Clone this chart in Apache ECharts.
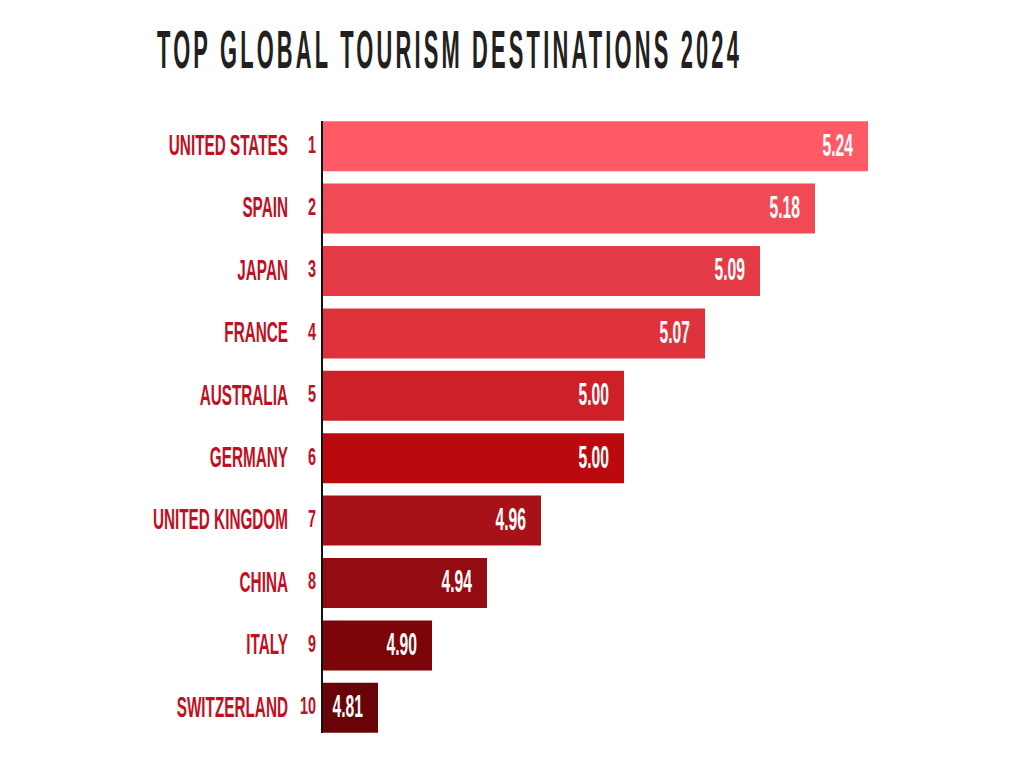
<!DOCTYPE html>
<html><head><meta charset="utf-8">
<style>html,body{margin:0;padding:0;background:#fff}#c{width:1024px;height:768px}
#c text[style*="54px"]{letter-spacing:7.85px}</style>
<script src="https://cdn.jsdelivr.net/npm/echarts@6/dist/echarts.min.js"></script>
</head><body><div id="c"></div>
<script>
const titleText = 'TOP GLOBAL TOURISM DESTINATIONS 2024';
const categories = ['UNITED STATES','SPAIN','JAPAN','FRANCE','AUSTRALIA','GERMANY','UNITED KINGDOM','CHINA','ITALY','SWITZERLAND'];
const ranks = [1,2,3,4,5,6,7,8,9,10];
const scores = ['5.24','5.18','5.09','5.07','5.00','5.00','4.96','4.94','4.90','4.81'];
const barExtent = [546,493,438,383,302,302,219,165,110,56];
const barColors = ['#FF5A65','#F04B55','#E53B47','#DE323C','#CE2029','#BB0A0E','#A81118','#930C11','#7B0509','#680408'];
const FONT = '"Liberation Sans Narrow","Liberation Sans",sans-serif';
const chart = echarts.init(document.getElementById('c'), null, {renderer:'svg'});
function txt(text,x,y,size,fill,sx){
  return {type:'text',x,y,scaleX:sx,silent:true,
    style:{text,x:0,y:0,fill,align:'right',verticalAlign:'middle',
      font:'bold '+size+'px '+FONT}};
}
chart.setOption({
  animation:false,
  backgroundColor:'#fff',
  grid:{left:322,top:115,width:546,height:624,containLabel:false},
  xAxis:{type:'value',min:0,max:546,show:false},
  yAxis:{type:'category',inverse:true,data:categories,axisLine:{show:false},axisTick:{show:false},axisLabel:{show:false}},
  graphic:[
    {type:'rect',z:10,shape:{x:321,y:121,width:2,height:612},style:{fill:'#111'}},
    {type:'text',x:157,y:50,scaleX:0.405,style:{text:titleText,x:0,y:0,fill:'#231F20',align:'left',verticalAlign:'middle',font:'bold 54px '+FONT}}
  ],
  series:[
    {type:'bar',barWidth:50,data:barExtent.map((v,i)=>({value:v,itemStyle:{color:barColors[i]}}))},
    {type:'custom',clip:false,z:5,
     encode:{x:0,y:1},
     data:barExtent.map((v,i)=>[v,i]),
     renderItem(params,api){
       const i=params.dataIndex;
       const p=api.coord([api.value(0),i]);
       const o=api.coord([0,i]);
       return {type:'group',children:[
         txt(categories[i],o[0]-34,o[1]-2,30,'#C0101F',0.51),
         txt(String(ranks[i]),o[0]-6,o[1]-2,24,'#C0101F',0.6),
         txt(scores[i],p[0]-15,o[1]-2,32,'#FFFFFF',0.49)
       ]};
     }}
  ]
});
</script></body></html>
